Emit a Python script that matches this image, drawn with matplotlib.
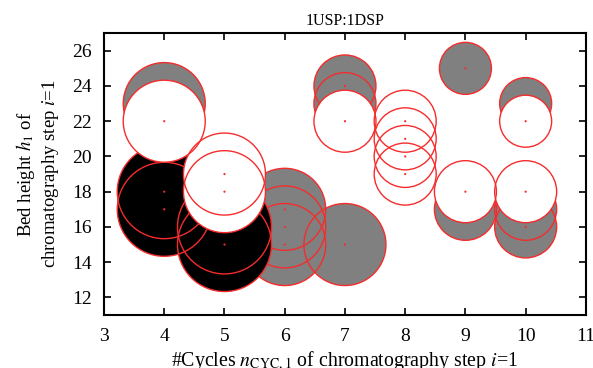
import numpy as np
import matplotlib
matplotlib.use("Agg")
import matplotlib.pyplot as plt

plt.rcParams['font.family'] = ['Liberation Serif', 'DejaVu Serif']
plt.rcParams['mathtext.fontset'] = 'stix'

# bubble data: cycles, bed height, bubble size (radius)
gray_x = [4, 6, 6, 6, 7, 7, 7, 9, 9, 10, 10, 10]
gray_y = [23, 17, 16, 15, 24, 23, 15, 25, 17, 23, 17, 16]
gray_r = [41, 41, 41, 41, 31, 31, 41, 26, 31, 26, 31, 31]

black_x = [4, 4, 5, 5]
black_y = [18, 17, 16, 15]
black_r = [47, 47, 47, 47]

white_x = [4, 5, 5, 7, 8, 8, 8, 8, 9, 10, 10]
white_y = [22, 19, 18, 22, 22, 21, 20, 19, 18, 18, 22]
white_r = [41, 41, 41, 31, 31, 31, 31, 31, 31, 31, 26]

xticks = [3, 4, 5, 6, 7, 8, 9, 10, 11]
yticks = [12, 14, 16, 18, 20, 22, 24, 26]

DPI = 100
fig = plt.figure(figsize=(5.93, 3.68), dpi=DPI)
ax = fig.add_axes([0.1754, 0.144, 0.8126, 0.766])

red = '#f52c2c'


def bubbles(x, y, r, face, z):
    # radius given in pixels -> scatter area in points^2
    s = (2 * np.array(r) * 72.0 / DPI) ** 2
    ax.scatter(x, y, s=s, c=face, edgecolors='none', zorder=z)
    ax.scatter(x, y, s=s, facecolors='none', edgecolors=red, linewidths=1.0, zorder=z + 0.1)
    ax.scatter(x, y, s=2.5, c=red, edgecolors='none', zorder=z + 0.2)


bubbles(gray_x, gray_y, gray_r, '#808080', 2)
bubbles(black_x, black_y, black_r, 'black', 3)
bubbles(white_x, white_y, white_r, 'white', 4)

ax.set_xlim(3, 11)
ax.set_ylim(11, 27)
ax.set_xticks(xticks)
ax.set_yticks(yticks)
ax.tick_params(direction='in', top=True, right=True, length=5, width=1.2,
               labelsize=14, pad=9)
for sp in ax.spines.values():
    sp.set_linewidth(1.5)

ax.set_title('1USP:1DSP', fontsize=11.5, pad=6)
ax.set_xlabel(r'#Cycles $n_{\mathrm{CYC},1}$ of chromatography step $i$=1',
              fontsize=14.3, labelpad=3)
ax.set_ylabel('Bed height $h_1$ of\nchromatography step $i$=1',
              fontsize=13.5, labelpad=8, linespacing=1.15)

fig.savefig('out.png', dpi=DPI)
